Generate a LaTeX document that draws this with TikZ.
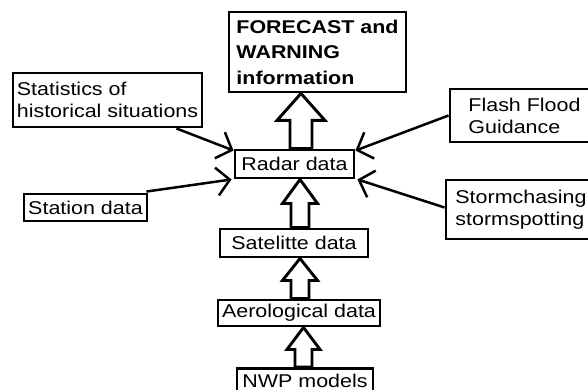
\documentclass[tikz,border=0pt]{standalone}
\usepackage{fontspec}
\setmainfont{Liberation Sans}[FakeStretch=1.16]
\usetikzlibrary{arrows.meta,calc}
\newcommand\bigarrow[5]{%
  \draw[blk] let \p1=(#1), \p2=(#2) in
    (\x1-#3pt,\y1) -- (\x1-#3pt,\y2-#5pt) -- (\x1-#4pt,\y2-#5pt) -- (\x1,\y2)
    -- (\x1+#4pt,\y2-#5pt) -- (\x1+#3pt,\y2-#5pt) -- (\x1+#3pt,\y1) -- cycle;}
\begin{document}
\begin{tikzpicture}[x=1pt,y=-1pt,
  box/.style={draw, line width=2.9pt, inner xsep=1pt, inner ysep=0pt, align=left,
    font=\fontsize{18.5}{22}\selectfont},
  feed/.style={line width=2.5pt, -{Straight Barb[length=13pt,width=28pt]}},
  blk/.style={draw, line width=2.9pt, fill=white, line join=miter}]
\path[use as bounding box] (0,0) rectangle (588,390);
\clip (0,0) rectangle (588,390);
\node[box, minimum width=177, minimum height=80,
  font=\fontsize{18.5}{25.5}\selectfont\bfseries] (fc) at (317.5,52)
  {FORECAST and\\WARNING\\information};
\node[box, minimum width=189, minimum height=54] (stat) at (107.5,100)
  {Statistics of\\historical situations};
\node[box, minimum width=119, minimum height=28] (radar) at (294.5,164) {Radar data};
\node[box, minimum width=149, minimum height=53] (flash) at (524.5,115.5)
  {Flash Flood\\Guidance};
\node[box, minimum width=150, minimum height=59] (storm) at (521,209.5)
  {Stormchasing\\stormspotting};
\node[box, minimum width=123, minimum height=27] (station) at (85.5,207.5) {Station data};
\node[box, minimum width=148, minimum height=28] (sat) at (294,243) {Satelitte data};
\node[box, minimum width=162, minimum height=26] (aero) at (299,313) {Aerological data};
\node[box, minimum width=136, minimum height=25] (nwp) at (305,381) {NWP models};
\coordinate (c1) at (301,0);
\coordinate (c2) at (300,0);
\coordinate (c3) at (303.5,0);
\bigarrow{c1|-radar.north}{c1|-fc.south}{11}{24}{27}
\bigarrow{c2|-sat.north}{c2|-radar.south}{9}{17.5}{24}
\bigarrow{c2|-aero.north}{c2|-sat.south}{9}{17.5}{22}
\bigarrow{c3|-nwp.north}{c3|-aero.south}{8.5}{16.5}{22}
\draw[feed] ([xshift=-27pt]stat.south east) -- ([yshift=-2pt]radar.north west);
\draw[feed] ([xshift=-2pt,yshift=1pt]station.north east) -- ([xshift=-2pt]radar.south west);
\draw[feed] (flash.west) -- ([yshift=-2pt]radar.north east);
\draw[feed] ([yshift=2pt]storm.west) -- ([xshift=2pt]radar.south east);
\end{tikzpicture}
\end{document}
